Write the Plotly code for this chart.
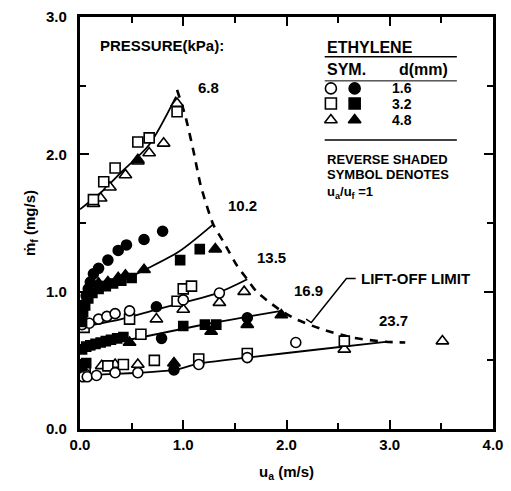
import plotly.graph_objects as go

# ---------------- data ----------------
# open circles (d = 1.6 mm)
oc_x = [0.02, 0.05, 0.09, 0.18, 0.26, 0.34, 0.48, 1.00, 1.35,
        0.03, 0.07, 0.16, 0.34, 0.56, 1.15, 1.62, 2.09]
oc_y = [0.76, 0.40, 0.77, 0.80, 0.82, 0.84, 0.86, 0.94, 0.99,
        0.38, 0.38, 0.39, 0.41, 0.41, 0.47, 0.52, 0.63]
# filled circles
fc_x = [0.06, 0.08, 0.10, 0.13, 0.18, 0.27, 0.37, 0.45, 0.62, 0.80, 0.74, 0.79, 1.62, 0.91]
fc_y = [0.97, 1.02, 1.07, 1.13, 1.17, 1.23, 1.30, 1.34, 1.38, 1.44, 0.89, 0.66, 0.81, 0.43]
# open squares (d = 3.2 mm)
os_x = [0.13, 0.23, 0.34, 0.56, 0.67, 0.94,
        0.04, 0.94, 1.00, 1.08, 0.48, 0.59,
        0.05, 0.27, 0.42, 0.72, 1.15, 1.62, 2.56]
os_y = [1.67, 1.80, 1.90, 2.09, 2.12, 2.31,
        0.74, 0.93, 1.02, 1.04, 0.80, 0.69,
        0.45, 0.46, 0.47, 0.50, 0.51, 0.55, 0.64]
# filled squares
fs_x = [0.02, 0.03, 0.05, 0.08, 0.12, 0.18, 0.25, 0.32, 0.40, 0.50, 0.97, 1.16,
        0.02, 0.06, 0.10, 0.15, 0.20, 0.25, 0.30, 0.36, 0.42, 1.00, 1.21, 1.32,
        0.02, 0.06]
fs_y = [0.78, 0.85, 0.90, 0.95, 0.99, 1.02, 1.04, 1.06, 1.08, 1.10, 1.23, 1.31,
        0.58, 0.60, 0.61, 0.62, 0.63, 0.64, 0.65, 0.66, 0.67, 0.75, 0.76, 0.76,
        0.46, 0.48]
# open triangles (d = 4.8 mm)
ot_x = [0.13, 0.20, 0.29, 0.44, 0.56, 0.67, 0.81, 0.94,
        0.74, 1.00, 1.35, 1.59,
        0.21, 0.34, 0.56, 2.56, 3.51]
ot_y = [1.64, 1.68, 1.76, 1.85, 1.95, 2.01, 2.08, 2.37,
        0.80, 0.87, 0.92, 1.00,
        0.46, 0.47, 0.47, 0.58, 0.64]
# filled triangles
ft_x = [0.56, 0.18, 0.27, 0.37, 0.44, 0.62, 1.31, 0.08, 0.48, 1.27, 1.62, 1.95, 0.91]
ft_y = [1.96, 1.06, 1.07, 1.10, 1.12, 1.16, 1.31, 0.60, 0.63, 0.71, 0.76, 0.83, 0.48]

# fitted curves for each pressure (kPa)
pressures = ["6.8", "10.2", "13.5", "16.9", "23.7"]
fit_x = [[0.0, 0.2, 0.4, 0.67, 0.93],
         [0.0, 0.3, 0.63, 0.955, 1.29],
         [0.0, 0.4, 0.74, 1.33, 1.62],
         [0.0, 0.48, 1.27, 1.95],
         [0.0, 0.91, 1.14, 1.62, 2.28, 2.96]]
fit_y = [[1.60, 1.72, 1.87, 2.07, 2.42],
         [0.93, 1.04, 1.16, 1.29, 1.49],
         [0.74, 0.80, 0.87, 0.99, 1.09],
         [0.58, 0.65, 0.77, 0.86],
         [0.39, 0.43, 0.475, 0.52, 0.577, 0.635]]
# pressure label positions
plab_x = [1.24, 1.57, 1.85, 2.21, 3.04]
plab_y = [2.49, 1.63, 1.25, 1.01, 0.79]

# lift-off limit (dashed)
lo_x = [0.94, 1.02, 1.10, 1.17, 1.29, 1.40, 1.52, 1.62, 1.71, 1.84, 1.95, 2.09, 2.33, 2.64, 2.96, 3.15]
lo_y = [2.47, 2.28, 2.02, 1.77, 1.49, 1.35, 1.19, 1.09, 1.00, 0.92, 0.86, 0.80, 0.73, 0.665, 0.635, 0.63]
# leader line of "LIFT-OFF LIMIT" label
lead_x = [2.67, 2.58, 2.24, 2.19]
lead_y = [1.096, 1.096, 0.775, 0.80]

# legend table
leg_sizes = ["1.6", "3.2", "4.8"]
leg_open = ["circle", "square", "triangle-up"]
leg_row_y = [2.48, 2.37, 2.25]

FONT = "Liberation Sans, Arial, Helvetica, sans-serif"

fig = go.Figure()

# fitted solid curves
for xs, ys in zip(fit_x, fit_y):
    fig.add_trace(go.Scatter(x=xs, y=ys, mode="lines",
                             line=dict(color="black", width=1.8, shape="spline", smoothing=0.8),
                             hoverinfo="skip", showlegend=False))
# lift-off limit dashed curve
fig.add_trace(go.Scatter(x=lo_x, y=lo_y, mode="lines",
                         line=dict(color="black", width=2.6, dash="8px,7px", shape="spline", smoothing=0.6),
                         hoverinfo="skip", showlegend=False))
# leader
fig.add_trace(go.Scatter(x=lead_x, y=lead_y, mode="lines",
                         line=dict(color="black", width=1.5),
                         hoverinfo="skip", showlegend=False))

def add_markers(xs, ys, symbol, filled, size):
    fig.add_trace(go.Scatter(
        x=xs, y=ys, mode="markers", showlegend=False,
        marker=dict(symbol=symbol, size=size,
                    color="black" if filled else "white",
                    line=dict(color="black", width=1.6))))

add_markers(ot_x, ot_y, "triangle-up", False, 11)
add_markers(os_x, os_y, "square", False, 10)
add_markers(oc_x, oc_y, "circle", False, 10)
add_markers(ft_x, ft_y, "triangle-up", True, 11)
add_markers(fs_x, fs_y, "square", True, 9)
add_markers(fc_x, fc_y, "circle", True, 10)

# legend table symbols
for sym, yy in zip(leg_open, leg_row_y):
    fig.add_trace(go.Scatter(x=[2.43], y=[yy], mode="markers", showlegend=False,
                             marker=dict(symbol=sym, size=11, color="white",
                                         line=dict(color="black", width=1.6))))
    fig.add_trace(go.Scatter(x=[2.66], y=[yy], mode="markers", showlegend=False,
                             marker=dict(symbol=sym, size=11, color="black",
                                         line=dict(color="black", width=1.6))))

ann = []
for lab, lx, ly in zip(pressures, plab_x, plab_y):
    ann.append(dict(x=lx, y=ly, text=lab, showarrow=False, font=dict(size=15)))
ann.append(dict(x=0.17, y=2.79, text="PRESSURE(kPa):", showarrow=False, xanchor="left",
                font=dict(size=15)))
ann.append(dict(x=2.70, y=1.096, text="LIFT-OFF LIMIT", showarrow=False, xanchor="left",
                font=dict(size=15)))
ann.append(dict(x=2.37, y=2.78, text="ETHYLENE", showarrow=False, xanchor="left",
                font=dict(size=16)))
ann.append(dict(x=2.37, y=2.62, text="SYM.", showarrow=False, xanchor="left",
                font=dict(size=16)))
ann.append(dict(x=3.33, y=2.62, text="d(mm)", showarrow=False, xanchor="center",
                font=dict(size=16)))
for s, yy in zip(leg_sizes, leg_row_y):
    ann.append(dict(x=3.12, y=yy, text=s, showarrow=False, font=dict(size=14)))
ann.append(dict(x=2.37, y=1.965, text="REVERSE SHADED", showarrow=False, xanchor="left",
                font=dict(size=13)))
ann.append(dict(x=2.37, y=1.85, text="SYMBOL DENOTES", showarrow=False, xanchor="left",
                font=dict(size=13)))
ann.append(dict(x=2.37, y=1.725, text="u<sub>a</sub>/u<sub>f</sub> =1", showarrow=False,
                xanchor="left", font=dict(size=13)))
# axis titles
ann.append(dict(xref="paper", yref="paper", x=0.5, y=0, yshift=-43, yanchor="middle",
                text="u<sub>a</sub> (m/s)", showarrow=False, font=dict(size=15)))
ann.append(dict(xref="paper", yref="paper", x=0, y=0.5, xshift=-50, xanchor="center",
                text="ṁ<sub>f</sub> (mg/s)", textangle=-90, showarrow=False,
                font=dict(size=15)))

shapes = [
    dict(type="line", x0=2.37, x1=3.65, y0=2.71, y1=2.71, line=dict(color="black", width=1.5)),
    dict(type="line", x0=2.37, x1=3.65, y0=2.535, y1=2.535, line=dict(color="black", width=1)),
    dict(type="line", x0=2.37, x1=3.65, y0=2.105, y1=2.105, line=dict(color="black", width=1.5)),
]

axis_common = dict(
    showgrid=False, zeroline=False, showline=True, linecolor="black", linewidth=2.5,
    mirror="allticks", ticks="inside", ticklen=9, tickwidth=2, tickcolor="black",
    tickformat=".1f", dtick=1,
    minor=dict(ticks="inside", ticklen=6, tickwidth=2, tickcolor="black", dtick=0.5),
)

fig.update_layout(
    width=511, height=491,
    margin=dict(l=80, r=8, t=13, b=62),
    paper_bgcolor="white", plot_bgcolor="white",
    font=dict(family=FONT, size=15, color="black", weight="bold"),
    xaxis=dict(range=[0, 4], tick0=0, **axis_common),
    yaxis=dict(range=[0, 3], tick0=0, ticksuffix="\u2002", **axis_common),
    annotations=ann, shapes=shapes, showlegend=False,
)

fig.write_html("out.html")
